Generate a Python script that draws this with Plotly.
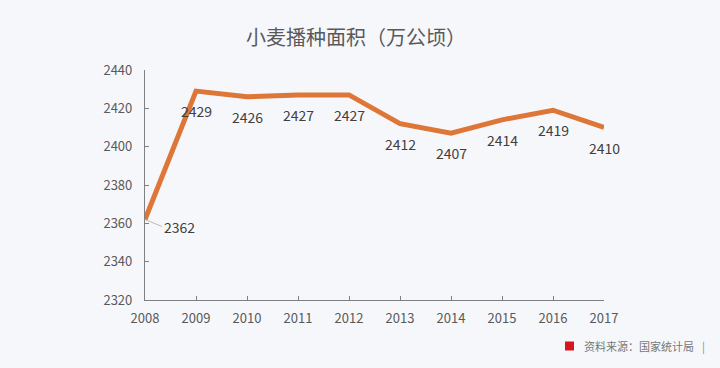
import plotly.graph_objects as go

years = [2008, 2009, 2010, 2011, 2012, 2013, 2014, 2015, 2016, 2017]
area = [2362, 2429, 2426, 2427, 2427, 2412, 2407, 2414, 2419, 2410]
y_ticks = [2320, 2340, 2360, 2380, 2400, 2420, 2440]

BG = "#F6F7FB"
FONT = "Noto Sans CJK SC"

# plot area in pixels
L, R, T, B = 145, 604, 70, 300


def px(x):
    return (x - L) / (R - L)


def py(y):
    return (B - y) / (B - T)


fig = go.Figure()
fig.add_trace(go.Scatter(
    x=years, y=area, mode="lines",
    line=dict(color="#DD7636", width=5),
    hoverinfo="skip", showlegend=False,
))

annotations = []
for i, (x, y) in enumerate(zip(years, area)):
    if i == 0:
        annotations.append(dict(
            x=x, y=y, xref="x", yref="y", text=str(y),
            showarrow=True, arrowhead=0, arrowwidth=1, arrowcolor="#BBBBBB",
            ax=17, ay=7, xanchor="left", yanchor="middle",
            font=dict(family=FONT, size=14, color="#404040"),
        ))
    else:
        annotations.append(dict(
            x=x, y=y, xref="x", yref="y", text=str(y),
            showarrow=False, yshift=-20,
            font=dict(family=FONT, size=14, color="#404040"),
        ))

annotations.append(dict(
    x=px(356), y=py(37), xref="paper", yref="paper", xanchor="center", yanchor="middle",
    text="小麦播种面积（万公顷）", showarrow=False,
    font=dict(family=FONT, size=20, color="#595959"),
))
annotations.append(dict(
    x=px(582), y=py(346), xref="paper", yref="paper", xanchor="left", yanchor="middle",
    text="资料来源：国家统计局", showarrow=False,
    font=dict(family=FONT, size=11, color="#777777"),
))
annotations.append(dict(
    x=px(703), y=py(346), xref="paper", yref="paper", xanchor="center", yanchor="middle",
    text="|", showarrow=False,
    font=dict(family=FONT, size=11, color="#888888"),
))

fig.update_layout(
    width=720, height=368,
    margin=dict(l=L, r=720 - R, t=T, b=368 - B),
    paper_bgcolor=BG, plot_bgcolor=BG,
    annotations=annotations,
    shapes=[dict(type="rect", xref="paper", yref="paper",
                 x0=px(565), x1=px(574), y0=py(350.5), y1=py(341.5),
                 fillcolor="#D9141B", line=dict(width=0))],
    xaxis=dict(
        range=[2008, 2017], tickmode="array", tickvals=years,
        ticktext=[str(v) for v in years],
        showgrid=False, zeroline=False, showline=True, linecolor="#808080", linewidth=1.2,
        ticks="inside", ticklen=4, tickcolor="#808080", ticklabelstandoff=6,
        tickfont=dict(family=FONT, size=13, color="#595959"),
    ),
    yaxis=dict(
        range=[2320, 2440], tickmode="array", tickvals=y_ticks,
        showgrid=False, zeroline=False, showline=True, linecolor="#808080", linewidth=1.2,
        ticks="inside", ticklen=4, tickcolor="#808080", ticklabelstandoff=9,
        tickfont=dict(family=FONT, size=13, color="#595959"),
    ),
)

fig.write_html(
    "out.html",
    config={"displayModeBar": False},
    post_script="document.body.style.margin='0';document.body.style.background='" + BG + "';",
)
